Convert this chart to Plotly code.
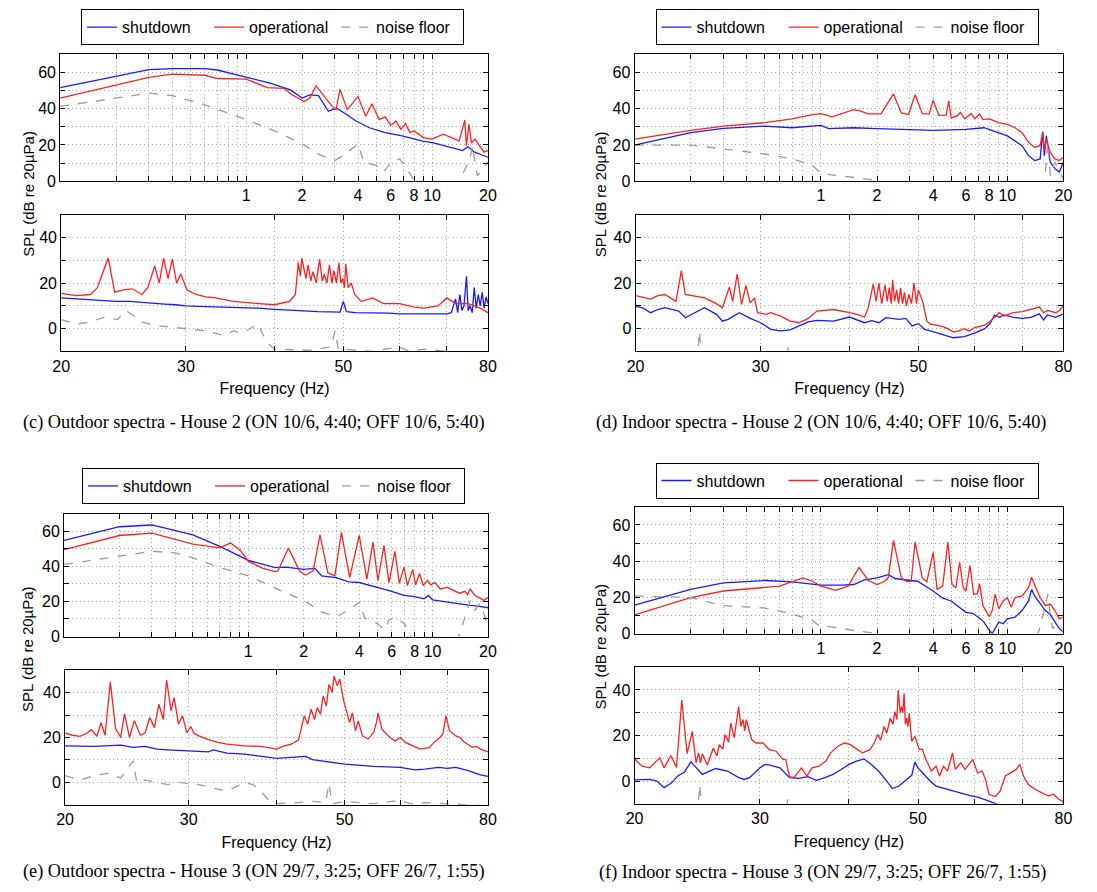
import math
import plotly.graph_objects as go

W, H = 1097, 892

# ---------------- data (frequency in Hz, SPL in dB re 20uPa) ----------------
# (c) Outdoor spectra - House 2
c_lo_sd_f = [0.1, 0.3, 0.4, 0.6, 0.7, 1.0, 1.36, 1.73, 2.0, 2.2, 2.45, 2.77, 3.06, 3.47, 3.9, 4.6, 5.6, 6.9, 8.8, 10.3, 12.7, 14.6, 15.6, 16.9, 18, 20]
c_lo_sd = [51.7, 61.6, 62.2, 62.2, 61.4, 57.6, 54, 50.4, 45.9, 47.7, 47.3, 38.6, 40.4, 36.8, 33.2, 29.5, 26.8, 25, 22.3, 21, 18.7, 16.9, 19, 16, 15, 13.2]
c_lo_op_f = [0.1, 0.3, 0.4, 0.6, 0.7, 1.0, 1.3, 1.6, 1.75, 2.05, 2.2, 2.38, 2.9, 3.05, 3.2, 3.5, 4.0, 4.4, 4.75, 5.2, 5.6, 6.0, 6.4, 6.8, 7.2, 7.6, 8.0, 9.0, 10, 11.5, 13, 14, 15, 15.3, 15.8, 16.3, 17, 18, 19, 20]
c_lo_op = [45.9, 57.3, 59.1, 58.5, 56.7, 56.4, 51.7, 51.3, 48, 44, 45.9, 52.6, 41.3, 39.5, 50.8, 39.5, 46.8, 35.9, 42.8, 34, 35.5, 30.8, 33.2, 28.6, 31.9, 26.8, 27.7, 24.1, 23.2, 25.9, 23.6, 22.3, 33.7, 19.6, 31.4, 21, 23.2, 19.6, 16, 16.9]
c_lo_nf_f = [0.1, 0.3, 0.4, 0.6, 1.0, 1.5, 2.0, 2.5, 3.0, 3.4, 4.0, 4.3, 5.0, 5.5, 6.0, 6.7, 7.5, 8.0, 9.0, 12, 14, 16, 16.5, 17.5, 20]
c_lo_nf = [41.3, 48.6, 47.3, 42.2, 34, 26.8, 20.5, 14.5, 11.4, 15, 20.5, 10.5, 8.7, 5.1, 10.5, 12.3, 5.1, 0.5, -5, -5, 0, 12.3, 19.6, 3, 10.5]
c_hi_sd_f = [20, 21, 22, 23, 24, 25, 26, 27, 28, 29, 30, 32, 34, 36, 38, 40, 42, 44, 46, 48, 49.5, 50, 50.5, 52, 55, 58, 60, 63, 66, 68,
             70, 71, 72, 72.5, 73, 73.5, 74, 74.6, 75, 75.5, 76, 76.5, 77, 77.5, 78, 78.5, 79, 79.5, 80]
c_hi_sd = [13.5, 13, 12.5, 12.3, 12, 12, 11.5, 11, 10.8, 10.5, 10, 9.7, 9.5, 9.2, 9, 8.5, 8.3, 7.8, 7.5, 7.3, 7.3, 12, 7.5, 7, 7, 6.8, 6.5, 6.5, 6.2, 6.5,
           6.5, 7, 13, 7, 15, 8, 10, 23, 8, 10, 7, 18, 9, 15, 10, 16, 9, 14, 11]
c_hi_op_f = [20, 21, 22, 22.5, 23.3, 23.8, 24.5, 25.2, 26, 26.5, 27.1, 27.5, 27.9, 28.3, 28.7, 29.1, 29.5, 30.1, 31, 32, 33, 35, 38, 40, 42,
             42.8, 43.2, 43.5, 43.7, 44.3, 44.6, 45, 45.3, 45.8, 46.3, 46.7, 47, 47.4, 47.8, 48.2, 48.5, 48.9, 49.3, 49.6, 49.9, 50.2, 50.4,
             50.8, 51.3, 51.9, 53, 55, 57, 60, 63, 65, 68, 70, 72, 75, 78, 80]
c_hi_op = [15.5, 14.5, 15, 18, 31, 16, 17, 17.5, 15, 18, 27.5, 20, 31, 22, 30.5, 20, 24, 17, 15, 14, 13.5, 12, 11, 10.5, 12,
           15, 29, 23, 31, 22, 28, 21, 25, 20, 30.5, 21, 24, 20, 28, 20, 25.5, 20, 29, 20, 22, 18, 28.5,
           18, 20, 15, 12, 13.5, 11, 11, 9.5, 9, 10, 13.5, 11, 11, 9, 7]
c_hi_nf_f = [20, 21, 22, 23, 24, 24.7, 26, 27, 28, 29, 30, 32, 34, 35, 36, 37, 37.9, 39, 40, 45, 48, 48.7, 49.2, 50, 55, 60, 62, 65, 70, 80]
c_hi_nf = [4, 2, 3, 5, 4, 8, 3, 1.5, 1, 0.5, 0, -1, -3, -1, -2, 0, 2, -6, -9, -9.5, -8, -1, -9, -9, -10, -8, -10, -9, -10, -10.5]

# (d) Indoor spectra - House 2
d_lo_sd_f = [0.1, 0.2, 0.3, 0.5, 0.7, 1.0, 1.1, 1.5, 2, 3, 4, 5, 6, 7.5, 9, 10, 12, 13, 14, 15, 15.5, 15.8, 16.2, 16.7, 17, 18, 19, 20]
d_lo_sd = [19.9, 26.8, 29.2, 30.4, 29.5, 30.8, 29, 29.5, 29, 28.3, 28.1, 28.3, 28.6, 29.5, 26.8, 25, 19.6, 14.1, 11.4, 12.3, 27.2, 14, 25, 15, 10.5, 6.9, 5, 10.5]
d_lo_op_f = [0.1, 0.2, 0.3, 0.5, 0.7, 0.9, 1.0, 1.15, 1.5, 1.6, 1.8, 2.1, 2.45, 2.7, 2.95, 3.2, 3.5, 3.8, 4.0, 4.3,
             4.7, 4.85, 5.0, 5.4, 5.6, 5.9, 6.4, 6.7, 7.1, 7.4, 8, 9, 10, 11, 12, 13, 14, 15, 15.5, 15.8, 16.2, 17, 18, 19, 20]
d_lo_op = [23.2, 28.1, 30.4, 32.3, 34.4, 36.8, 37.3, 35.5, 39.5, 39, 37.2, 37.2, 48.2, 37.7, 36.8, 47.7, 37.3, 37, 44.6, 36.3,
           36.5, 44.4, 35, 36, 38, 34.6, 37.3, 34.5, 37.2, 34, 34.4, 32.3, 31.4, 29.5, 26.8, 21.4, 18.7, 19.6, 27.2, 16.9, 23.2, 16, 12.3, 11.4, 13.2]
d_lo_nf_f = [0.1, 0.2, 0.3, 0.5, 0.7, 0.9, 1.0, 1.5, 2.0, 2.3, 3, 15, 16, 16.5, 17, 18, 20]
d_lo_nf = [19.9, 19.9, 17.8, 15, 12.3, 8.7, 4.2, 2, 0.5, -2, -5, -5, 5, 21.4, 3, 10.5, 1]
d_hi_sd_f = [20, 20.5, 21, 21.5, 22, 23, 23.5, 24, 25, 26, 26.5, 27, 28, 29, 30, 31, 32, 33, 34, 35, 36, 38, 40, 41, 42, 43, 44, 45, 47, 48,
             49, 50, 51, 52, 54, 56, 58, 60, 62, 63, 64, 65, 66, 68, 70, 72, 74, 75, 76, 78, 80]
d_hi_sd = [9.9, 9, 7, 8.4, 9.2, 7.7, 4.8, 6.3, 9.2, 6.3, 3.3, 4.1, 7, 4.5, 2.6, -0.3, -1, -0.5, 1.2, 3, 3.6, 3.3, 5.1, 4, 2.6, 3.5, 2.6, 4.8, 4.1, 4.5,
           1.2, 2.2, -0.3, -1, -2.5, -4, -3.5, -2, 0, 2, 6, 5, 6, 5, 4.5, 5, 6.5, 3.8, 6, 5, 6.5]
d_hi_op_f = [20, 21, 21.5, 22, 22.8, 23.2, 23.5, 24, 25, 26, 26.5, 27.1, 27.4, 27.8, 28.2, 28.6, 29, 29.4, 29.7, 30.5,
             31, 32, 33, 34, 35, 36, 38, 40, 41, 42, 42.5, 43.2, 43.6, 44.0, 44.4, 44.9, 45.2, 45.5, 45.8, 46.0,
             46.3, 46.6, 46.9, 47.2, 47.5, 47.8, 48.1, 48.5, 48.9, 49.3, 49.7, 50.0, 50.3, 50.7, 51.4, 52, 53, 54, 55, 56,
             57, 58, 59, 60, 62, 63, 64, 65, 66, 68, 70, 72, 74, 75, 76, 78, 79, 80]
d_hi_op = [14.5, 13, 14.5, 15, 12, 25.5, 15, 14.5, 13.5, 11, 9.2, 18.2, 12, 24, 10.6, 19, 11.3, 13.5, 7, 6.3,
           7, 5.5, 3.3, 2.6, 4.5, 7.7, 8.4, 7, 6.3, 5.1, 9, 19.6, 12, 20, 11, 19.3, 12, 18, 11, 21.5,
           12, 17, 11, 17.9, 11, 16, 10, 15, 11, 20, 11, 17, 15, 12, 3.3, 2, 1.5, 1, 0, -1.5,
           -1, 0, -1, 0.5, 1.5, 3, 5, 7, 5.5, 7, 7.5, 8.5, 9.5, 7, 8, 7, 8, 10]
d_hi_nf_f = [20, 24.45, 24.6, 24.75, 32.7, 32.8, 32.9, 80]
d_hi_nf = [-12, -12, -1, -12, -12, -7.5, -12, -12]

# (e) Outdoor spectra - House 3
e_lo_sd_f = [0.1, 0.2, 0.3, 0.5, 0.7, 1.0, 1.4, 1.6, 2, 2.3, 2.5, 3, 3.5, 4, 5, 6, 7, 8, 9, 9.5, 10, 12, 14, 16, 18, 20]
e_lo_sd = [54.8, 62.6, 63.6, 58, 51.4, 43.4, 39.3, 39.6, 38.3, 38.9, 34.6, 33.6, 31.2, 30.8, 28, 25.8, 23.4, 22.8, 21.5, 23.4, 20.9, 19.6, 18.7, 17.8, 17.2, 16.4]
e_lo_op_f = [0.1, 0.2, 0.3, 0.5, 0.7, 0.8, 0.9, 1.0, 1.2, 1.4, 1.45, 1.65, 1.9, 2.05, 2.25, 2.45, 2.7, 2.95, 3.2, 3.55,
             4.0, 4.4, 4.75, 5.05, 5.45, 5.8, 6.25, 6.6, 7.0, 7.3, 7.8, 8.1, 8.5, 8.9, 9.4, 9.8, 10.3, 11, 12, 13, 14, 15, 15.5, 16, 17, 18, 19, 20]
e_lo_op = [49.5, 57.6, 58.9, 52.7, 50.5, 53.3, 49.5, 43, 38.9, 37, 37.5, 50.5, 37.4, 35.1, 37.4, 57.9, 36.4, 34.6, 59.4, 33.6,
           57.6, 32.7, 53.8, 31.8, 52, 30.8, 48.6, 30.3, 39.6, 29, 38.3, 29.5, 35.9, 29, 32.1, 29.5, 30.8, 27.1, 28, 26.2, 24.7, 25.8, 24, 27.1, 23.4, 22, 20.6, 22.4]
e_lo_nf_f = [0.1, 0.2, 0.3, 0.4, 0.5, 0.7, 1.0, 1.5, 2, 2.5, 3.0, 3.5, 4.0, 4.3, 5, 5.5, 5.8, 6.2, 7.0, 7.5, 8, 13, 14, 15, 16, 17, 18, 19, 20]
e_lo_nf = [41.1, 45.8, 48.6, 47.7, 44.9, 39.3, 34.6, 26.2, 20.6, 14, 11.2, 15, 19.6, 10.3, 7.5, 3.7, 9.3, 11.2, 7.5, 1.9, -5, -5, 0.9, 11.2, 20.6, 15, 18.7, 13, 5.6]
e_hi_sd_f = [20, 22, 24, 25, 26, 27, 28, 30, 32, 32.5, 34, 36, 38, 40, 42, 44, 45, 47, 50, 55, 60, 63, 65, 68, 70, 72, 75, 78, 80]
e_hi_sd = [16.3, 16, 16.6, 15.6, 16, 14.8, 14.5, 14, 13.6, 14.5, 13, 12.6, 11.6, 10.7, 11.1, 11.6, 10.1, 9.2, 8.1, 7.1, 6.7, 5.6, 5.9, 6.7, 6.2, 6.7, 5.2, 3.3, 2.7]
e_hi_op_f = [20, 20.5, 21, 21.5, 21.8, 22.2, 22.5, 22.8, 23.2, 23.6, 24.0, 24.3, 24.7, 25.1, 25.6, 26.0, 26.4, 26.8, 27.2, 27.6,
             27.9, 28.3, 28.6, 29.0, 29.4, 29.8, 30.2, 30.5, 31, 32, 33, 34, 36, 38, 40, 41, 42, 43, 43.4, 43.8,
             44.3, 44.8, 45.3, 45.7, 46.2, 46.6, 47.1, 47.5, 48, 48.3, 48.8, 49.2, 49.8, 50.3, 50.8, 51.3, 51.8, 52.3, 53, 54,
             55, 55.5, 55.8, 56.5, 58, 59, 60, 61, 63, 64, 66, 67, 68, 69, 69.7, 70.5, 72, 73, 74, 76, 77, 78, 80]
e_hi_op = [22, 21, 20.5, 22, 23.5, 20.5, 26.7, 21, 44.7, 24, 20, 30.5, 20, 27.5, 21, 22, 28.9, 24.4, 34.8, 28,
           45.6, 31.9, 37.8, 26, 29.6, 22.2, 24.9, 22, 20.7, 19, 17.8, 17, 16.3, 16, 14.8, 16.3, 17, 19, 24.4, 29.6,
           26, 32.6, 28, 33.3, 30.4, 38.5, 34, 43.7, 40, 47.4, 43, 46, 37, 31.1, 26.7, 31, 23, 27.4, 20.7, 19.3,
           22.2, 26.7, 31, 23.7, 20, 18.5, 20, 17.8, 15.6, 14.8, 15.5, 17.8, 19.3, 21.5, 29.6, 23, 20.7, 20, 18, 15.6, 16, 14.8, 13.6]
e_hi_nf_f = [20, 21, 22, 23, 24, 25, 25.3, 26, 27, 28, 29, 30, 31, 32, 33, 34, 35, 36, 37, 38, 39, 40, 43, 45, 47, 47.5, 48, 50, 55, 60, 62, 65, 70, 80]
e_hi_nf = [3, 1, 3, 4, 2, 9.6, 0, 1, 0, -1, 0, -0.5, -1, -2, -3, -4, -2, 0, -1, -4, -8, -9.5, -9, -8.5, -9, -0.5, -9.5, -8.5, -9.5, -8, -9.5, -9, -9.5, -10.5]

# (f) Indoor spectra - House 3
f_lo_sd_f = [0.1, 0.2, 0.3, 0.5, 0.7, 0.9, 1.0, 1.3, 1.5, 1.7, 2.0, 2.3, 2.5, 3.0, 3.3, 4.0, 4.5, 5.0, 5.5, 6.0,
             6.5, 7.0, 7.5, 8.0, 8.3, 9, 9.5, 10, 11, 12, 13, 13.5, 14, 15, 16, 17, 18, 19, 20]
f_lo_sd = [15.7, 24.4, 28, 29.3, 28.6, 27.5, 26.7, 26.7, 27.1, 29.5, 30.7, 32.5, 30.4, 29.3, 28.9, 23.5, 19.5, 18, 14.5, 11.7,
           11.2, 9, 6.3, 1.8, 0, 6.3, 5.4, 8.1, 9, 12.7, 18, 24.4, 20.8, 16.3, 12.7, 10.5, 6.3, 2.7, 0.9]
f_lo_op_f = [0.1, 0.2, 0.3, 0.5, 0.6, 0.8, 0.9, 1.0, 1.2, 1.4, 1.6, 1.8, 2.0, 2.2, 2.3, 2.45, 2.7, 2.9, 3.05, 3.2,
             3.5, 3.7, 4.0, 4.2, 4.5, 4.8, 5.05, 5.3, 5.55, 5.8, 6.0, 6.3, 6.6, 6.9, 7.1, 7.4, 7.8, 8.0, 8.3, 8.6,
             9, 9.5, 10, 10.5, 11, 12, 13, 13.5, 14, 15, 16, 17, 18, 19, 20]
f_lo_op = [10.3, 19.9, 23.5, 25.3, 26.2, 30.7, 28.9, 26.2, 23.9, 26.2, 36.5, 29.3, 27.1, 28.9, 31, 51.5, 30.7, 28.6, 29, 50.6,
           30.7, 28.6, 44.8, 24.4, 26.2, 50.6, 27.1, 25.3, 39.4, 25.3, 23.5, 37.6, 21.7, 22, 27.5, 15.4, 10.8, 9.4, 12.7, 21.7,
           13.6, 18, 19.9, 14.5, 19.9, 20.8, 25.3, 31.1, 27.1, 19.9, 15.4, 16.3, 12.7, 8.1, 9]
f_lo_nf_f = [0.1, 0.2, 0.3, 0.5, 0.7, 0.9, 1.0, 1.05, 1.5, 2, 2.2, 3, 14, 15, 16.5, 17, 17.5, 18, 20]
f_lo_nf = [20.8, 19.9, 15.4, 14.1, 10.8, 7.2, 3.6, 4.2, 1.8, 0, -2, -5, -5, 3.6, 21.7, 10, 2.7, 4, 1]
f_hi_sd_f = [20, 21, 21.5, 22, 22.5, 23, 23.5, 24, 24.9, 26, 27, 28, 28.5, 29, 30, 30.5, 31, 32, 33, 34,
             35, 36, 37, 38, 39, 40, 41, 42, 43, 44, 45, 46, 47, 48, 49, 49.5, 50, 51, 52, 53, 55, 57, 59, 61, 63, 64, 65, 66]
f_hi_sd = [0.5, 0.7, 0, -2.9, -1, 2.2, 4, 8.4, 2.9, 5.5, 4.4, 1.5, 0.7, 1.5, 5.8, 7.3, 7, 5.8, 1.5, 1.2,
           1.9, 0.3, 1.5, 2.9, 5.1, 7.3, 8.7, 9.7, 7.3, 4.4, 0.7, -3.3, -2.2, 0, 2.5, 8.3, 5.8, 2.9, 0, -2.2, -3.6, -5.1, -6.3, -7.3, -8.7, -9.7, -10.6, -12]
f_hi_op_f = [20, 20.5, 21, 21.7, 22, 22.5, 22.9, 23.3, 23.7, 24.1, 24.4, 24.6, 24.75, 24.9, 25.3, 25.8, 26.1, 26.3, 26.6, 26.8,
             27.1, 27.3, 27.6, 28.0, 28.2, 28.4, 28.55, 28.7, 29.2, 29.6, 30.3, 30.9, 31.6, 32.3, 32.6, 33.0, 33.5, 34.3, 34.9, 35.5,
             36.3, 37.1, 37.7, 38.6, 39.4, 40.2, 41.1, 41.8, 42.8, 43.4, 43.9, 44.3, 44.8, 45.2, 45.7, 46.1, 46.4, 46.7, 46.9, 47.2,
             47.4, 47.6, 47.8, 48.0, 48.2, 48.4, 48.6, 49.0, 49.5, 50.2, 50.7, 51.3, 52.2, 53.0, 53.6, 54.3, 55.0, 55.9, 56.4, 57.4,
             58.2, 59.7, 60.6, 61.5, 62.2, 62.9, 64.2, 65.2, 66.3, 67.6, 68.7, 69.5, 70.3, 71.4, 73, 74.5, 76.2, 77.5, 78.8, 79.6, 80]
f_hi_op = [9.7, 6.5, 5.8, 10.2, 5.8, 11.2, 6, 35.6, 12, 21.8, 8, 12.4, 8, 12, 7, 14.5, 11, 16, 14, 20.4,
           17, 25.5, 19, 32.7, 24, 27, 22, 27, 18.2, 16.7, 16.7, 13.8, 13.1, 9.5, 9.5, 1.9, 1.5, 5.8, 2.2, 5.8,
           6.5, 8.7, 12.4, 15.3, 16.7, 16, 13.8, 12.4, 13.8, 16.7, 20.4, 18, 24, 21, 27.6, 25, 30.5, 27, 40, 30,
           32.7, 30, 38.5, 25, 27.6, 24, 29.8, 17.5, 19.6, 13.8, 14, 9.5, 4.4, 6.5, 2.2, 6.5, 4.4, 12.4, 5.1, 8,
           5.1, 9.5, 3.6, 4.4, 0.7, -5.8, -6.8, -4.4, 2.2, 3.6, 5.1, 7.3, 2.2, -1.5, -3.6, -5.1, -6.5, -5.8, -8, -8.7, -9.5]
f_hi_nf_f = [20, 24.55, 24.7, 24.85, 32.7, 32.8, 32.9, 80]
f_hi_nf = [-12, -12, -1.5, -12, -12, -8, -12, -12]

series_names = ["shutdown", "operational", "noise floor"]
lo_tick_vals = [0.2, 0.3, 0.4, 0.5, 0.6, 0.7, 0.8, 0.9, 1, 2, 3, 4, 5, 6, 7, 8, 9, 10, 20]
lo_tick_text = ["", "", "", "", "", "", "", "", "1", "2", "", "4", "", "6", "", "8", "", "10", "20"]
hi_tick_vals = [20, 30, 40, 50, 60, 70, 80]
hi_tick_text = ["20", "30", "", "50", "", "", "80"]
ytop_vals = [0, 10, 20, 30, 40, 50, 60, 70]
ytop_text = ["0", "", "20", "", "40", "", "60", ""]
ybot_vals = [-10, 0, 10, 20, 30, 40, 50]
ybot_text = ["", "0", "", "20", "", "40", ""]

captions = [
    "(c) Outdoor spectra - House 2 (ON 10/6, 4:40; OFF 10/6, 5:40)",
    "(d) Indoor spectra - House 2 (ON 10/6, 4:40; OFF 10/6, 5:40)",
    "(e) Outdoor spectra - House 3 (ON 29/7, 3:25; OFF 26/7, 1:55)",
    "(f) Indoor spectra - House 3 (ON 29/7, 3:25; OFF 26/7, 1:55)",
]

panel_data = [
    ((c_lo_sd_f, c_lo_sd), (c_lo_op_f, c_lo_op), (c_lo_nf_f, c_lo_nf),
     (c_hi_sd_f, c_hi_sd), (c_hi_op_f, c_hi_op), (c_hi_nf_f, c_hi_nf)),
    ((d_lo_sd_f, d_lo_sd), (d_lo_op_f, d_lo_op), (d_lo_nf_f, d_lo_nf),
     (d_hi_sd_f, d_hi_sd), (d_hi_op_f, d_hi_op), (d_hi_nf_f, d_hi_nf)),
    ((e_lo_sd_f, e_lo_sd), (e_lo_op_f, e_lo_op), (e_lo_nf_f, e_lo_nf),
     (e_hi_sd_f, e_hi_sd), (e_hi_op_f, e_hi_op), (e_hi_nf_f, e_hi_nf)),
    ((f_lo_sd_f, f_lo_sd), (f_lo_op_f, f_lo_op), (f_lo_nf_f, f_lo_nf),
     (f_hi_sd_f, f_hi_sd), (f_hi_op_f, f_hi_op), (f_hi_nf_f, f_hi_nf)),
]

# ---------------- layout geometry (pixels) ----------------
# top box (x0, x1, y0, y1), bottom box, legend centre (x, y), y-title centre, caption centre
geom = [
    dict(top=(52, 487, 55, 183), bot=(53, 487, 217, 355), leg=(268, 27.5), ylab=(19, 196), cap=(249, 427)),
    dict(top=(636, 1072, 55, 183), bot=(637, 1072, 217, 355), leg=(852, 27.5), ylab=(601, 196), cap=(826, 427)),
    dict(top=(56, 487, 519, 643), bot=(57, 487, 677, 813), leg=(269, 491), ylab=(19, 656), cap=(249, 880)),
    dict(top=(636, 1072, 512, 640), bot=(636, 1072, 674, 812), leg=(852, 485.5), ylab=(601, 653), cap=(827, 881)),
]

BLUE = "#1a1aff"
RED = "#ff2121"
GRAY = "#9c9c9c"
colors = [BLUE, RED, GRAY]
dashes = ["solid", "solid", "dash"]
FONT = "Liberation Sans, Arial, sans-serif"
SERIF = "Liberation Serif, Times New Roman, serif"

fig = go.Figure()
layout = dict(
    width=W, height=H, margin=dict(l=0, r=0, t=0, b=0),
    paper_bgcolor="white", plot_bgcolor="white",
    font=dict(family=FONT, size=16, color="black"),
    annotations=[],
)


def xd(x0, x1):
    return [x0 / W, x1 / W]


def yd(y0, y1):
    return [1 - y1 / H, 1 - y0 / H]


axis_common = dict(showline=True, linecolor="black", linewidth=1, mirror="ticks",
                   ticks="inside", ticklen=5, tickcolor="black", tickwidth=1,
                   showgrid=True, gridcolor="#a6a6a6", griddash="1px,3px", gridwidth=1,
                   zeroline=False, tickfont=dict(family=FONT, size=16, color="black"),
                   tickmode="array")

for i, (g, pdata) in enumerate(zip(geom, panel_data)):
    nt, nb = 2 * i + 1, 2 * i + 2
    xt = "x" if nt == 1 else f"x{nt}"
    yt = "y" if nt == 1 else f"y{nt}"
    xb, yb = f"x{nb}", f"y{nb}"
    leg = "legend" if i == 0 else f"legend{i + 1}"

    for k in range(3):
        fx, fy = pdata[k]
        fig.add_trace(go.Scatter(x=fx, y=fy, mode="lines", name=series_names[k],
                                 line=dict(color=colors[k], width=1.3, dash=dashes[k]),
                                 xaxis=xt, yaxis=yt, legend=leg, showlegend=True))
    for k in range(3):
        fx, fy = pdata[3 + k]
        fig.add_trace(go.Scatter(x=fx, y=fy, mode="lines", name=series_names[k],
                                 line=dict(color=colors[k], width=1.3, dash=dashes[k]),
                                 xaxis=xb, yaxis=yb, showlegend=False))

    tx0, tx1, ty0, ty1 = g["top"]
    bx0, bx1, by0, by1 = g["bot"]
    layout["xaxis" if nt == 1 else f"xaxis{nt}"] = dict(
        axis_common, type="log", range=[-1, math.log10(20)], domain=xd(tx0, tx1),
        anchor=yt, tickvals=lo_tick_vals, ticktext=lo_tick_text)
    layout["yaxis" if nt == 1 else f"yaxis{nt}"] = dict(
        axis_common, range=[0, 70], domain=yd(ty0, ty1), anchor=xt,
        tickvals=ytop_vals, ticktext=ytop_text)
    layout[f"xaxis{nb}"] = dict(
        axis_common, type="log", range=[math.log10(20), math.log10(80)], domain=xd(bx0, bx1),
        anchor=yb, tickvals=hi_tick_vals, ticktext=hi_tick_text,
        title=dict(text="Frequency (Hz)", font=dict(family=FONT, size=16), standoff=9))
    layout[f"yaxis{nb}"] = dict(
        axis_common, range=[-10, 50], domain=yd(by0, by1), anchor=xb,
        tickvals=ybot_vals, ticktext=ybot_text)

    lx, ly = g["leg"]
    layout[leg] = dict(orientation="h", x=lx / W, xanchor="center", y=1 - ly / H, yanchor="middle",
                       bordercolor="black", borderwidth=1, bgcolor="white", entrywidth=82,
                       font=dict(family=FONT, size=16, color="black"))

    ax, ay = g["ylab"]
    layout["annotations"].append(dict(text="SPL (dB re 20µPa)", x=ax / W, y=1 - ay / H,
                                      xref="paper", yref="paper", showarrow=False, textangle=-90,
                                      xanchor="center", yanchor="middle",
                                      font=dict(family=FONT, size=15, color="black")))
    cx, cy = g["cap"]
    layout["annotations"].append(dict(text=captions[i], x=cx / W, y=1 - cy / H,
                                      xref="paper", yref="paper", showarrow=False,
                                      xanchor="center", yanchor="middle",
                                      font=dict(family=SERIF, size=18.3, color="black")))

fig.update_layout(**layout)
fig.write_html("out.html", config={"displayModeBar": False},
               post_script="document.body.style.margin='0';")
